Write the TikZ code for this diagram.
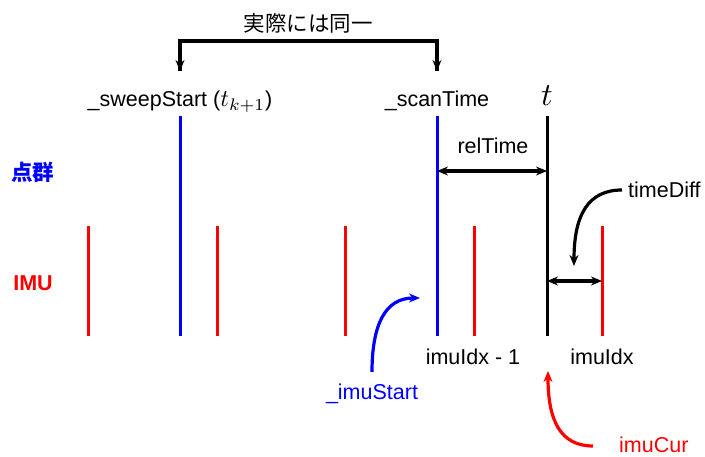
\documentclass[tikz,border=0pt]{standalone}
\usepackage{fontspec}
\setmainfont{Liberation Sans}
\newfontfamily\cjk{Noto Sans CJK JP}
\usetikzlibrary{arrows.meta}
\newcommand{\bigmath}[2]{{\fontsize{10}{12}\selectfont\scalebox{#1}{$#2$}}}
\begin{document}
\begin{tikzpicture}[x=1pt,y=-1pt,
  tick/.style={line width=3pt},
  lbl/.style={font=\fontsize{21.5}{24}\selectfont, inner sep=0pt},
  arr/.style={line width=3.2pt,-{Stealth[length=11pt,width=9pt]}},
  darr/.style={line width=3.2pt,{Stealth[length=11pt,width=9pt]}-{Stealth[length=11pt,width=9pt]}}]
\useasboundingbox (0,0) rectangle (705,457);
% red IMU ticks
\foreach \n/\x in {r1/88,r2/217,r3/345,r4/474,r5/602}{
  \coordinate (\n t) at (\x,226); \coordinate (\n b) at (\x,336);
  \draw[tick,red] (\n t) -- (\n b);}
% blue ticks
\coordinate (b1t) at (180,116); \coordinate (b1b) at (180,336);
\coordinate (b2t) at (437,116); \coordinate (b2b) at (437,336);
\draw[tick,blue] (b1t) -- (b1b);
\draw[tick,blue] (b2t) -- (b2b);
% black t
\coordinate (tt) at (547,116); \coordinate (tb) at (547,336);
\draw[tick,black] (tt) -- (tb);
% labels
\node[lbl] (same) at (308,23) {\cjk 実際には同一};
\node[lbl,anchor=base] (sweep) at (180,107) {\_sweepStart (\bigmath{2.4}{t_{k+1}})};
\node[lbl,anchor=base] (scan) at (437,107) {\_scanTime};
\node[lbl,anchor=base] (tlab) at (547,106) {\bigmath{3.2}{t}};
\node[lbl,blue] (pc) at (33,172) {\cjk\bfseries 点群};
\node[lbl,red,font=\fontsize{21.5}{24}\selectfont\bfseries] (imu) at (33,283) {IMU};
\node[lbl] (rel) at (493,146) {relTime};
\node[lbl,anchor=west] (td) at (628,190) {timeDiff};
\node[lbl] (im1) at (473,357) {imuIdx - 1};
\node[lbl] (im) at (602,357) {imuIdx};
\node[lbl,blue] (ims) at (372,394) {\_imuStart};
\node[lbl,red,anchor=base west] (imc) at (619,453) {imuCur};
% bracket
\coordinate (bl) at (180,41); \coordinate (br) at (437,41);
\coordinate (bla) at (180,71); \coordinate (bra) at (437,71);
\draw[line width=3.2pt] (bla) -- (bl) -- (br) -- (bra);
\draw[arr] (180,50) -- (bla);
\draw[arr] (437,50) -- (bra);
% relTime arrow
\coordinate (ra) at (437,171); \coordinate (rb) at (547,171);
\draw[darr] (ra) -- (rb);
% timeDiff short arrow
\coordinate (sa) at (547,281); \coordinate (sb) at (602,281);
\draw[darr] (sa) -- (sb);
% timeDiff curved
\coordinate (tdA) at (622,190); \coordinate (tdB) at (574,266);
\draw[arr] (tdA) .. controls (588,190) and (574,215) .. (tdB);
% imuStart curved
\coordinate (isA) at (372,372); \coordinate (isB) at (420,298);
\draw[arr,blue] (isA) .. controls (372,325) and (385,298) .. (isB);
% imuCur curved
\coordinate (icA) at (593,446); \coordinate (icB) at (548,371);
\draw[arr,red] (icA) .. controls (560,446) and (548,420) .. (icB);
\end{tikzpicture}
\end{document}
